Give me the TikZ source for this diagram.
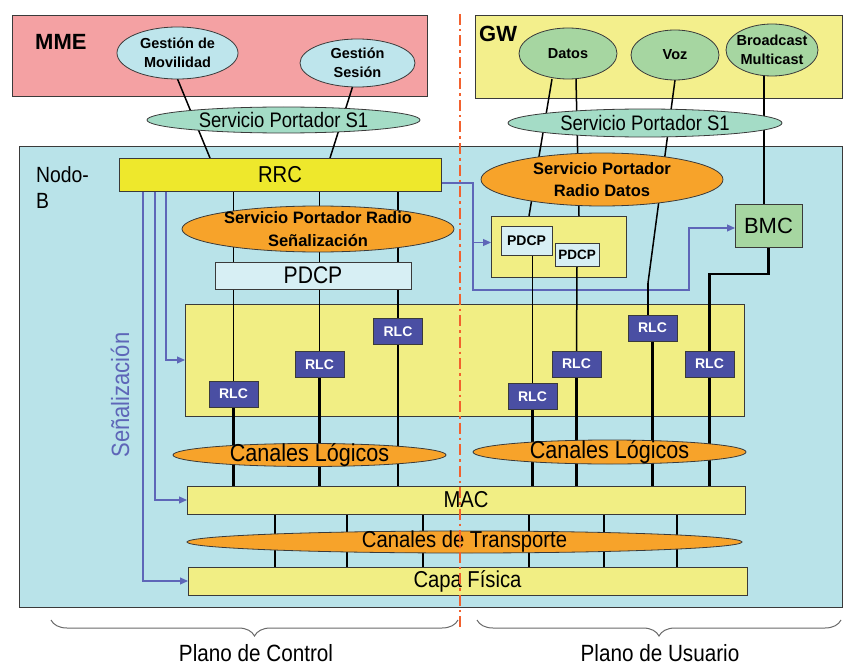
\documentclass[tikz,border=0pt]{standalone}
\usepackage{fontspec}
\setmainfont{Liberation Sans}
\newfontfamily\condf[FakeStretch=0.88]{Liberation Sans}
\usetikzlibrary{shapes.geometric,arrows.meta,calc,decorations.pathreplacing}
\pgfdeclarelayer{back}
\pgfdeclarelayer{lines}
\pgfsetlayers{back,lines,main}
\definecolor{mmepink}{HTML}{F4A1A3}
\definecolor{gwyel}{HTML}{F3EF8C}
\definecolor{nodobg}{HTML}{B9E3E9}
\definecolor{rrcyel}{HTML}{EEE82C}
\definecolor{contyel}{HTML}{F1EE84}
\definecolor{gestcy}{HTML}{BEE5EC}
\definecolor{gwgreen}{HTML}{A6D6A1}
\definecolor{sonegreen}{HTML}{A4DCC6}
\definecolor{orng}{HTML}{F7A32A}
\definecolor{pdcpcy}{HTML}{D7EFF4}
\definecolor{rlcblue}{HTML}{4A4FA3}
\definecolor{sigblue}{HTML}{5E66B8}
\definecolor{redline}{HTML}{F2612E}
\definecolor{bordergray}{HTML}{3A3A3A}
\definecolor{bracegray}{HTML}{6A6A6A}
\newcommand{\fsz}[2]{\fontsize{#1}{#2}\selectfont}
\tikzset{
  bx/.style={draw=bordergray, line width=0.9pt, inner sep=0pt, outer sep=0pt},
  el/.style={ellipse, draw=bordergray, line width=0.8pt, inner sep=0pt, outer sep=0pt},
  tb14/.style={font=\fsz{14.5}{19}\bfseries, align=center, inner sep=0pt},
  tb16/.style={font=\fsz{16.5}{22.5}\bfseries, align=center, inner sep=0pt},
  treg/.style={inner sep=0pt},
  thinl/.style={line width=1.5pt, black},
  thickl/.style={line width=2.8pt, black},
  sig/.style={draw=sigblue, line width=1.1pt, -{Triangle[length=8pt,width=7pt]}},
  rlc/.style={bx, fill=rlcblue, minimum width=49, minimum height=26, text=white, font=\fsz{14}{16}\bfseries},
  brc/.style={decorate, decoration={brace, mirror, amplitude=16pt}, draw=bracegray, line width=1pt}
}
\begin{document}
\begin{tikzpicture}[x=1pt,y=-1pt]
\useasboundingbox (0,0) rectangle (843,666);

% ---------- background boxes ----------
\begin{pgfonlayer}{back}
\node[bx, fill=mmepink, minimum width=415, minimum height=81] (mme) at (219.5,55.5) {};
\node[bx, fill=gwyel, minimum width=367, minimum height=83] (gw) at (658.5,56.5) {};
\node[bx, fill=nodobg, minimum width=823, minimum height=461] (nodob) at (430.5,376.5) {};
\node[bx, fill=contyel, minimum width=559, minimum height=112] (rlcbox) at (464.5,360) {};
\node[bx, fill=contyel, minimum width=135, minimum height=61] (pc) at (558.5,246.5) {};
\end{pgfonlayer}

% ---------- titles ----------
\node[treg, anchor=base west, font=\fsz{22}{26}\bfseries] (mmet) at (35,50) {MME};
\node[treg, anchor=base west, font=\fsz{22}{26}\bfseries] (gwt) at (479,42) {GW};
\node[treg, anchor=base west, font=\condf\fsz{22}{26}] (nb1) at (36,182) {Nodo-};
\node[treg, anchor=base west, font=\condf\fsz{22}{26}] (nb2) at (36,208) {B};

% ---------- ellipses ----------
\node[el, fill=gestcy, minimum width=121, minimum height=52] (gm) at (177.5,53) {};
\node[el, fill=gestcy, minimum width=115, minimum height=48] (gs) at (357.5,63) {};
\node[el, fill=gwgreen, minimum width=98, minimum height=51] (datos) at (568,53.5) {};
\node[el, fill=gwgreen, minimum width=88, minimum height=50] (voz) at (675,55) {};
\node[el, fill=gwgreen, minimum width=92, minimum height=52] (bc) at (772,50) {};
\node[el, fill=sonegreen, minimum width=273, minimum height=26] (s1l) at (283.5,120) {};
\node[el, fill=sonegreen, minimum width=274, minimum height=28] (s1r) at (645,123) {};
\node[el, fill=orng, minimum width=272, minimum height=46] (srs) at (318,229) {};
\node[el, fill=orng, minimum width=242, minimum height=53] (srd) at (602,179.5) {};
\node[el, fill=orng, minimum width=273, minimum height=23] (cll) at (309.5,455) {};
\node[el, fill=orng, minimum width=273, minimum height=24] (clr) at (609.5,452) {};
\node[el, fill=orng, minimum width=555, minimum height=22] (ct) at (464.5,542) {};

\node[tb14] (gmt) at (gm) {Gestión de\\Movilidad};
\node[tb14] (gst) at (gs) {Gestión\\Sesión};
\node[tb14] (datost) at (datos) {Datos};
\node[tb14] (vozt) at (voz) {Voz};
\node[tb14] (bct) at (bc) {Broadcast\\Multicast};
\node[treg, font=\condf\fsz{21}{24}] (s1lt) at (s1l) {Servicio Portador S1};
\node[treg, font=\condf\fsz{21}{24}] (s1rt) at (s1r) {Servicio Portador S1};
\node[tb16] (srst) at (srs) {Servicio Portador Radio\\Señalización};
\node[tb16] (srdt) at (srd) {Servicio Portador\\Radio Datos};
\node[treg, font=\condf\fsz{24.5}{28}] (cllt) at (cll) {Canales Lógicos};
\node[treg, font=\condf\fsz{24.5}{28}] (clrt) at (clr) {Canales Lógicos};
\node[treg, font=\condf\fsz{23}{26}] (ctt) at (ct) {Canales de Transporte};

% ---------- boxes ----------
\node[bx, fill=rrcyel, minimum width=322, minimum height=33, font=\condf\fsz{23}{26}] (rrc) at (280,174.5) {RRC};
\node[bx, fill=pdcpcy, minimum width=196, minimum height=27, font=\condf\fsz{24}{26}] (pdcpl) at (313,275.5) {PDCP};
\node[bx, fill=pdcpcy, minimum width=51, minimum height=29, font=\fsz{14}{16}\bfseries] (p1) at (526.5,240.5) {PDCP};
\node[bx, fill=pdcpcy, minimum width=44, minimum height=23, font=\fsz{13.5}{16}\bfseries] (p2) at (577,254.5) {PDCP};
\node[bx, fill=gwgreen, minimum width=67, minimum height=43, font=\fsz{22}{26}] (bmc) at (768.5,225.5) {BMC};
\node[bx, fill=contyel, minimum width=558, minimum height=28, font=\condf\fsz{23}{26}] (mac) at (466,500) {MAC};
\node[bx, fill=contyel, minimum width=559, minimum height=28, font=\condf\fsz{23}{26}] (capa) at (467.5,581) {Capa Física};

\node[rlc] (l1) at (233.5,394) {RLC};
\node[rlc] (l2) at (319.5,364.5) {RLC};
\node[rlc] (l3) at (398,331.5) {RLC};
\node[rlc] (r1) at (532.5,396.5) {RLC};
\node[rlc] (r2) at (576.5,364) {RLC};
\node[rlc] (r3) at (652.5,328) {RLC};
\node[rlc] (r4) at (709.5,364) {RLC};

\node[treg, rotate=90, text=sigblue, font=\condf\fsz{25}{28}] (senal) at (120,395) {Señalización};

% ---------- connectors ----------
\begin{pgfonlayer}{lines}
% signalling (blue)
\draw[sig] ($(rrc.south west)+(24,0)$) |- (capa.west);
\draw[sig] ($(rrc.south west)+(36,0)$) |- (mac.west);
\draw[sig] ($(rrc.south west)+(47,0)$) |- (rlcbox.west);
\draw[sig] ($(rrc.south east)+(0,-8)$) -- ++(32,0) coordinate (bj) -- ++(0,107) -- ++(216,0) |- ($(bmc.west)+(0,2.5)$);
\coordinate (pcin) at ($(pc.west)+(0,-4)$);
\draw[sig] (bj |- pcin) -- (pcin);

% black lines
\draw[thinl] (gm.south) -- ($(rrc.north west)+(91,0)$);
\draw[thinl] ($(gs.south)+(-5,0)$) -- ($(rrc.north west)+(211,0)$);
\draw[thinl] ($(datos.south)+(-16,0)$) -- ($(pc.north west)+(38,0)$);
\draw[thinl] ($(datos.south)+(8,0)$) -- ($(pc.north west)+(88,0)$);
\coordinate (vk) at ($(r3.north)+(-4.5,-32)$);
\draw[thinl] (voz.south) -- (vk);
\draw[thickl] (vk) -- (vk |- r3.north);
\coordinate (bcx) at ($(bmc.north)+(-4.5,0)$);
\draw[thinl] (bcx |- bc.south) -- (bcx);
\draw[thickl] (bmc.south) -- ++(0,27) -| (r4.north);
\draw[thinl] (r1.north |- p1.south) -- (r1.north);
\draw[thinl] (p2.south) -- (r2.north);
\foreach \r in {l1,l2,l3} \draw[thinl] (rrc.south -| \r.north) -- (\r.north);
\foreach \r in {l1,l2,l3,r1,r2,r3,r4} \draw[thickl] (\r.south) -- (\r.south |- mac.north);
\foreach \x/\w [count=\i] in {275/2.6,347/1.4,423/2.6,529/2.6,604/1.4,677/2.6} {
  \coordinate (mx\i) at (\x,0);
  \draw[line width=\w pt] (mac.south -| mx\i) -- (capa.north -| mx\i);
}
\end{pgfonlayer}

% ---------- divider ----------
\coordinate (rt) at (460,14);
\coordinate (rb) at (460,628);
\draw[redline, line width=2.6pt, dash pattern=on 11pt off 4pt on 2.5pt off 4pt] (rt) -- (rb);

% ---------- braces ----------
\coordinate (b1a) at (51,620);
\coordinate (b1b) at (458,620);
\coordinate (b2a) at (477,620);
\coordinate (b2b) at (841,620);
\draw[brc] (b1a) -- (b1b);
\draw[brc] (b2a) -- (b2b);
\node[treg, font=\condf\fsz{23.5}{26}] (plc) at (256,653) {Plano de Control};
\node[treg, font=\condf\fsz{23.5}{26}] (plu) at (660,653) {Plano de Usuario};
\end{tikzpicture}
\end{document}
